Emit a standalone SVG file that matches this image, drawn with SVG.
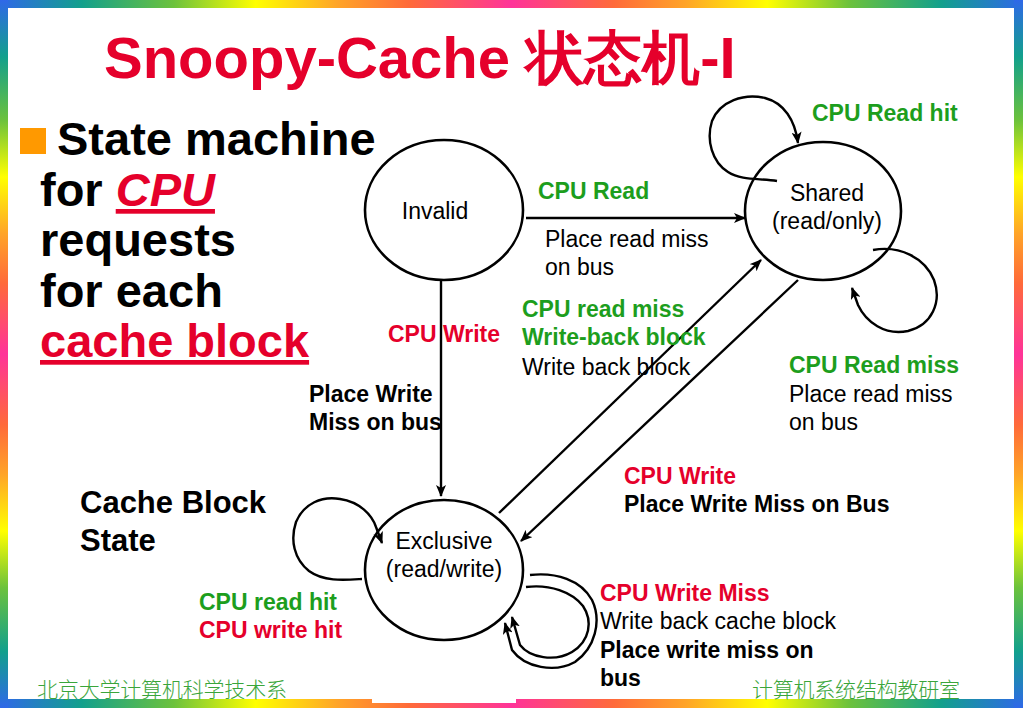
<svg xmlns="http://www.w3.org/2000/svg" width="1023" height="708" viewBox="0 0 1023 708">
<defs>
<linearGradient id="gh" x1="0" y1="0" x2="1" y2="0">
<stop offset="0" stop-color="#2f68e8"/><stop offset="0.08" stop-color="#12a08c"/><stop offset="0.17" stop-color="#6cc23c"/><stop offset="0.25" stop-color="#ffff00"/><stop offset="0.33" stop-color="#ffa428"/><stop offset="0.4" stop-color="#ff6a3a"/><stop offset="0.5" stop-color="#ff3399"/><stop offset="0.6" stop-color="#ff6a3a"/><stop offset="0.67" stop-color="#ffa428"/><stop offset="0.75" stop-color="#ffff00"/><stop offset="0.83" stop-color="#6cc23c"/><stop offset="0.92" stop-color="#12a08c"/><stop offset="1" stop-color="#2f68e8"/>
</linearGradient>
<linearGradient id="gv" x1="0" y1="0" x2="0" y2="1">
<stop offset="0" stop-color="#2f68e8"/><stop offset="0.08" stop-color="#12a08c"/><stop offset="0.17" stop-color="#6cc23c"/><stop offset="0.25" stop-color="#ffff00"/><stop offset="0.33" stop-color="#ffa428"/><stop offset="0.4" stop-color="#ff6a3a"/><stop offset="0.5" stop-color="#ff3399"/><stop offset="0.6" stop-color="#ff6a3a"/><stop offset="0.67" stop-color="#ffa428"/><stop offset="0.75" stop-color="#ffff00"/><stop offset="0.83" stop-color="#6cc23c"/><stop offset="0.92" stop-color="#12a08c"/><stop offset="1" stop-color="#2f68e8"/>
</linearGradient>
<marker id="ah" markerWidth="12" markerHeight="10" refX="11" refY="5" orient="auto" markerUnits="userSpaceOnUse">
<path d="M0,0 L12,5 L0,10 L3,5 Z" fill="#000"/>
</marker>
</defs>
<style>
.s{font-family:"Liberation Sans",Arial,sans-serif}
.b{font-family:"Liberation Sans",Arial,sans-serif;font-weight:bold}
.l{font-size:23px}
.g{fill:#1d9e1d}
.r{fill:#e5002b}
.k{fill:#000}
.st{fill:none;stroke:#000;stroke-width:2.6}
.cn{fill:none;stroke:#000;stroke-width:2.4}
.ft{font-family:"Noto Sans CJK SC",sans-serif;font-size:21px;fill:#3aa53a;font-weight:300}
</style>
<rect x="0" y="0" width="1023" height="708" fill="#fff"/>
<g id="frame">
<rect x="0" y="0" width="1023" height="8" fill="url(#gh)"/>
<rect x="0" y="699" width="1023" height="9" fill="url(#gh)"/>
<rect x="0" y="0" width="8" height="708" fill="url(#gv)"/>
<rect x="1014" y="0" width="9" height="708" fill="url(#gv)"/>
<rect x="372" y="698" width="144" height="5" fill="#fff"/>
</g>
<text x="104" y="78" class="b r" font-size="58" font-family="'Liberation Sans','Noto Sans CJK SC',sans-serif">Snoopy-Cache 状态机-I</text>
<g id="bullet">
<rect x="20" y="128" width="26" height="26" fill="#ff9900"/>
<text class="b k" font-size="47"><tspan x="57" y="155">State machine</tspan><tspan x="40" y="206">for <tspan class="r" font-style="italic" text-decoration="underline">CPU</tspan></tspan><tspan x="40" y="256">requests</tspan><tspan x="40" y="307">for each</tspan><tspan x="40" y="357" class="r" text-decoration="underline">cache block</tspan></text>
</g>
<g id="connectors">
<line x1="526" y1="218" x2="745" y2="218" class="cn" marker-end="url(#ah)"/>
<line x1="441" y1="280" x2="441" y2="496" class="cn" marker-end="url(#ah)"/>
<line x1="499" y1="513" x2="761" y2="260" class="cn" marker-end="url(#ah)"/>
<line x1="798" y1="280" x2="521" y2="541" class="cn" marker-end="url(#ah)"/>
<path d="M777,181 C760,178 742,181 728,172 C712,162 706,140 712,121 C720,101 744,93 765,98 C784,103 795,120 798,143" class="cn" marker-end="url(#ah)"/>
<path d="M873,250 C900,245 925,258 934,280 C942,302 932,325 908,331 C885,336 866,322 858,305 L852,288" class="cn" marker-end="url(#ah)"/>
<path d="M362,579 C345,580 324,582 309,571 C294,559 290,540 296,522 C304,503 322,496 340,499 C360,502 372,515 376,527 L382,543" class="cn" marker-end="url(#ah)"/>
<path d="M530,575 C556,572 581,580 592,600 C602,621 595,648 575,662 C555,673 525,668 512,650 L505,623" class="cn" marker-end="url(#ah)"/>
<path d="M526,587 C550,584 572,592 583,606 C593,621 590,641 572,652 C555,662 530,658 520,645 L512,617" class="cn" marker-end="url(#ah)"/>
</g>
<g id="invalid">
<ellipse cx="444" cy="210" rx="79" ry="70" class="st"/>
<text x="435" y="219" class="s l k" text-anchor="middle">Invalid</text>
</g>
<g id="shared">
<ellipse cx="823" cy="211" rx="78" ry="69" class="st"/>
<text class="s l k" text-anchor="middle"><tspan x="827" y="201">Shared</tspan><tspan x="827" y="229">(read/only)</tspan></text>
</g>
<g id="exclusive">
<ellipse cx="444" cy="570" rx="79" ry="70" class="st"/>
<text class="s l k" text-anchor="middle"><tspan x="444" y="549">Exclusive</tspan><tspan x="444" y="577">(read/write)</tspan></text>
</g>
<g id="labels">
<text x="812" y="121" class="b l g">CPU Read hit</text>
<text x="538" y="199" class="b l g">CPU Read</text>
<text class="s l k"><tspan x="545" y="247">Place read miss</tspan><tspan x="545" y="275">on bus</tspan></text>
<text x="522" y="317" class="b l g">CPU read miss</text>
<text x="522" y="345" class="b l g">Write-back block</text>
<text x="522" y="375" class="s l k">Write back block</text>
<text x="388" y="342" class="b l r">CPU Write</text>
<text class="b l k"><tspan x="309" y="402">Place Write</tspan><tspan x="309" y="430">Miss on bus</tspan></text>
<text x="789" y="373" class="b l g">CPU Read miss</text>
<text class="s l k"><tspan x="789" y="402">Place read miss</tspan><tspan x="789" y="430">on bus</tspan></text>
<text x="624" y="484" class="b l r">CPU Write</text>
<text x="624" y="512" class="b l k">Place Write Miss on Bus</text>
<text class="b k" font-size="31"><tspan x="80" y="513">Cache Block</tspan><tspan x="80" y="551">State</tspan></text>
<text x="199" y="610" class="b l g">CPU read hit</text>
<text x="199" y="638" class="b l r">CPU write hit</text>
<text x="600" y="601" class="b l r">CPU Write Miss</text>
<text x="600" y="629" class="s l k">Write back cache block</text>
<text class="b l k"><tspan x="600" y="658">Place write miss on</tspan><tspan x="600" y="686">bus</tspan></text>
</g>
<g id="footer">
<text x="37" y="697" class="ft" textLength="250">北京大学计算机科学技术系</text>
<text x="752" y="697" class="ft" textLength="208">计算机系统结构教研室</text>
</g>
</svg>
